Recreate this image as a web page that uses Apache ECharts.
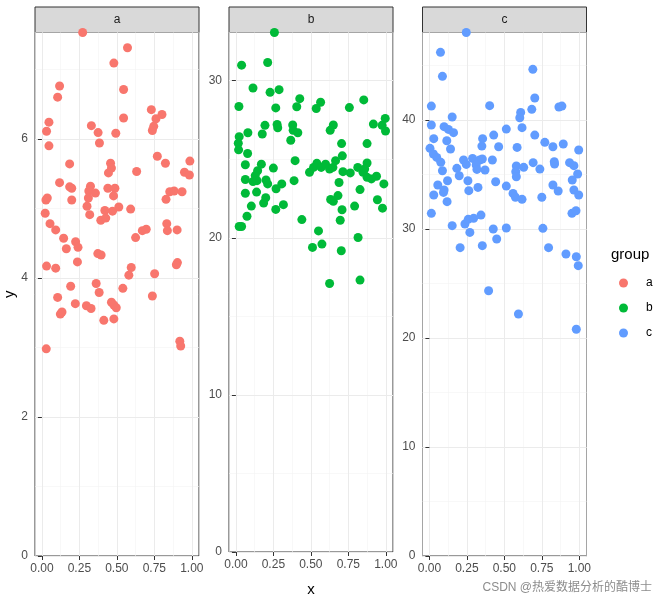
<!DOCTYPE html>
<html>
<head>
<meta charset="utf-8">
<script src="https://cdn.jsdelivr.net/npm/echarts@6/dist/echarts.min.js"></script>
<style>
html, body { margin: 0; padding: 0; background: #fff; }
#chart { width: 667px; height: 602px; }
</style>
</head>
<body>
<div id="chart"></div>
<script>
// facet groups
const groups = ['a', 'b', 'c']
const colors = ['#F8766D', '#00BA38', '#619CFF']

// group a
const xA = [0.272, 0.571, 0.480, 0.118, 0.105, 0.545, 0.730, 0.801, 0.761, 0.545,
  0.047, 0.031, 0.330, 0.375, 0.493, 0.737, 0.746, 0.384, 0.047, 0.185,
  0.770, 0.824, 0.458, 0.464, 0.444, 0.632, 0.987, 0.951, 0.984, 0.118,
  0.185, 0.199, 0.324, 0.313, 0.357, 0.310, 0.440, 0.487, 0.478, 0.027,
  0.036, 0.199, 0.853, 0.882, 0.935, 0.828, 0.301, 0.319, 0.022, 0.420,
  0.471, 0.513, 0.592, 0.393, 0.426, 0.054, 0.092, 0.145, 0.163, 0.225,
  0.241, 0.237, 0.625, 0.670, 0.696, 0.833, 0.837, 0.902, 0.373, 0.395,
  0.031, 0.092, 0.596, 0.580, 0.752, 0.904, 0.897, 0.192, 0.362, 0.382,
  0.105, 0.540, 0.737, 0.223, 0.123, 0.134, 0.297, 0.328, 0.464, 0.480,
  0.496, 0.413, 0.480, 0.029, 0.920, 0.926]
const yA = [7.53, 7.31, 7.09, 6.76, 6.60, 6.71, 6.42, 6.35, 6.29, 6.30,
  6.24, 6.11, 6.19, 6.09, 6.08, 6.12, 6.18, 5.94, 5.90, 5.64,
  5.75, 5.65, 5.65, 5.58, 5.51, 5.53, 5.68, 5.52, 5.48, 5.37,
  5.31, 5.29, 5.32, 5.25, 5.22, 5.15, 5.29, 5.29, 5.18, 5.12,
  5.15, 5.12, 5.24, 5.25, 5.24, 5.13, 5.03, 4.91, 4.93, 4.97,
  4.96, 5.02, 4.99, 4.83, 4.86, 4.78, 4.69, 4.57, 4.42, 4.52,
  4.44, 4.23, 4.58, 4.68, 4.70, 4.78, 4.68, 4.69, 4.35, 4.33,
  4.17, 4.14, 4.15, 4.04, 4.06, 4.22, 4.19, 3.88, 3.92, 3.79,
  3.72, 3.85, 3.74, 3.63, 3.48, 3.51, 3.60, 3.56, 3.65, 3.61,
  3.57, 3.39, 3.41, 2.98, 3.09, 3.02]

// group b
const xB = [0.257, 0.038, 0.212, 0.114, 0.228, 0.288, 0.020, 0.266, 0.426, 0.406,
  0.565, 0.536, 0.757, 0.853, 0.022, 0.016, 0.018, 0.080, 0.194, 0.176,
  0.275, 0.279, 0.379, 0.382, 0.413, 0.366, 0.650, 0.629, 0.705, 0.917,
  0.996, 0.975, 0.998, 0.875, 0.078, 0.063, 0.395, 0.250, 0.170, 0.145,
  0.129, 0.063, 0.114, 0.201, 0.212, 0.268, 0.306, 0.388, 0.063, 0.138,
  0.199, 0.185, 0.103, 0.317, 0.266, 0.074, 0.022, 0.038, 0.440, 0.491,
  0.518, 0.540, 0.569, 0.598, 0.625, 0.647, 0.665, 0.710, 0.714, 0.763,
  0.813, 0.875, 0.848, 0.875, 0.938, 0.987, 0.688, 0.828, 0.681, 0.632,
  0.650, 0.708, 0.696, 0.792, 0.944, 0.978, 0.551, 0.511, 0.574, 0.703,
  0.815, 0.625, 0.828, 0.859, 0.141, 0.904]
const yB = [33.07, 30.99, 31.16, 29.54, 29.26, 29.43, 28.36, 28.27, 28.86, 28.34,
  28.63, 28.23, 28.29, 28.78, 26.44, 26.02, 25.60, 26.69, 27.16, 26.61,
  27.22, 27.01, 27.18, 26.84, 26.69, 26.21, 27.18, 26.84, 26.00, 27.24,
  27.60, 27.16, 26.80, 26.00, 25.37, 24.65, 24.91, 24.44, 24.69, 24.27,
  23.96, 23.71, 23.58, 23.68, 23.43, 23.12, 23.43, 23.64, 22.84, 22.91,
  22.55, 22.21, 22.02, 22.11, 21.81, 21.37, 20.72, 20.72, 21.16, 24.17,
  24.48, 24.74, 24.48, 24.69, 24.38, 24.48, 24.91, 25.22, 24.21, 24.13,
  24.48, 24.76, 24.17, 23.85, 23.92, 23.43, 23.52, 23.07, 22.69, 22.44,
  22.32, 21.79, 21.12, 22.02, 22.42, 21.89, 20.44, 19.39, 19.60, 19.18,
  20.02, 17.09, 17.31, 24.38, 23.64, 23.75]

// group c
const xC = [0.246, 0.074, 0.087, 0.690, 0.703, 0.683, 0.609, 0.603, 0.864, 0.884,
  0.013, 0.402, 0.152, 0.013, 0.098, 0.127, 0.161, 0.029, 0.116, 0.141,
  0.004, 0.027, 0.513, 0.618, 0.429, 0.355, 0.350, 0.462, 0.585, 0.703,
  0.770, 0.824, 0.893, 0.996, 0.049, 0.076, 0.087, 0.228, 0.288, 0.335,
  0.353, 0.420, 0.246, 0.312, 0.317, 0.371, 0.183, 0.199, 0.580, 0.629,
  0.576, 0.580, 0.692, 0.737, 0.833, 0.835, 0.935, 0.964, 0.989, 0.953,
  0.121, 0.056, 0.098, 0.094, 0.029, 0.118, 0.257, 0.263, 0.324, 0.442,
  0.513, 0.558, 0.574, 0.618, 0.750, 0.824, 0.859, 0.964, 0.996, 0.013,
  0.951, 0.978, 0.152, 0.237, 0.259, 0.295, 0.344, 0.270, 0.426, 0.513,
  0.449, 0.757, 0.205, 0.353, 0.795, 0.911, 0.980, 0.993, 0.395, 0.594,
  0.980]
const yC = [48.03, 46.21, 44.01, 44.65, 42.02, 40.98, 40.70, 40.21, 41.19, 41.28,
  41.28, 41.32, 40.28, 39.54, 39.39, 39.14, 38.84, 38.29, 38.10, 37.34,
  37.40, 36.88, 39.17, 39.30, 38.62, 38.29, 37.61, 37.55, 37.49, 38.62,
  37.95, 37.55, 37.80, 37.25, 36.57, 36.12, 35.35, 36.33, 36.48, 36.33,
  36.42, 36.33, 35.93, 35.87, 35.47, 35.41, 35.57, 34.89, 35.78, 35.66,
  35.26, 34.80, 36.09, 35.50, 36.18, 35.96, 36.09, 35.81, 35.05, 34.50,
  34.43, 34.04, 33.58, 33.36, 33.12, 32.51, 34.43, 33.52, 33.82, 34.34,
  33.94, 33.27, 32.91, 32.72, 32.91, 34.04, 33.49, 33.58, 33.12, 31.44,
  31.44, 31.68, 30.31, 30.46, 30.89, 30.98, 31.28, 29.69, 30.00, 30.09,
  29.08, 30.06, 28.29, 28.47, 28.29, 27.71, 27.46, 26.64, 24.34, 22.20,
  20.80]

// tick labels
const xTicks = [0, 0.25, 0.5, 0.75, 1]
const yTicks = [[0, 2, 4, 6], [0, 10, 20, 30], [0, 10, 20, 30, 40]]
const yStep = [2, 10, 10]

const xs = [xA, xB, xC]
const ys = [yA, yB, yC]

const xMin = -0.046
const xMax = 1.048
const panelLeft = [35, 229, 422.5]
const panelWidth = 164
const panelTop = 32.5
const panelBottom = 46

const chart = echarts.init(document.getElementById('chart'), null, { renderer: 'canvas' })

const grids = []
const xAxes = []
const yAxes = []
const series = []
const graphics = []

groups.forEach((g, i) => {
  grids.push({
    left: panelLeft[i], top: panelTop, width: panelWidth, bottom: panelBottom,
    show: true, borderColor: '#333333', borderWidth: 1, backgroundColor: '#fff'
  })
  // main x axis
  xAxes.push({
    gridIndex: i, type: 'value', min: xMin, max: xMax,
    minInterval: 0.25, maxInterval: 0.25, z: 2,
    name: i === 1 ? 'x' : '', nameLocation: 'middle', nameGap: 30,
    nameTextStyle: { color: '#000', fontSize: 15, fontFamily: 'Liberation Sans' },
    axisLine: { show: false },
    axisTick: { show: true, length: 4, customValues: xTicks, lineStyle: { color: '#333333' } },
    axisLabel: {
      customValues: xTicks, margin: 7, color: '#4D4D4D', fontSize: 12,
      fontFamily: 'Liberation Sans', formatter: v => v.toFixed(2)
    },
    splitLine: { show: true, lineStyle: { color: '#EBEBEB', width: 1 } }
  })
  // main y axis
  yAxes.push({
    gridIndex: i, type: 'value', min: 0, max: 'dataMax',
    minInterval: yStep[i], maxInterval: yStep[i], z: 2,
    name: i === 0 ? 'y' : '', nameLocation: 'middle', nameGap: 15, nameRotate: 90,
    nameTextStyle: { color: '#000', fontSize: 15, fontFamily: 'Liberation Sans' },
    axisLine: { show: false },
    axisTick: { show: true, length: 4, customValues: yTicks[i], lineStyle: { color: '#333333' } },
    axisLabel: {
      customValues: yTicks[i], margin: 7, color: '#4D4D4D', fontSize: 12,
      fontFamily: 'Liberation Sans'
    },
    splitLine: { show: true, lineStyle: { color: '#EBEBEB', width: 1 } }
  })
  series.push({
    name: g, type: 'scatter', xAxisIndex: i, yAxisIndex: i,
    symbolSize: 9, itemStyle: { color: colors[i], opacity: 1 },
    data: xs[i].map((x, k) => [x, ys[i][k]]),
    z: 3
  })
  // strip on top of panel
  graphics.push({
    type: 'rect',
    shape: { x: panelLeft[i], y: 7, width: panelWidth, height: panelTop - 7 },
    style: { fill: '#D9D9D9', stroke: '#333333', lineWidth: 1 }
  })
  graphics.push({
    type: 'text',
    x: panelLeft[i] + panelWidth / 2, y: (7 + panelTop) / 2,
    style: {
      text: g, fill: '#1A1A1A', fontSize: 12, fontFamily: 'Liberation Sans',
      align: 'center', verticalAlign: 'middle'
    }
  })
})

// minor grid lines
groups.forEach((g, i) => {
  xAxes.push({
    gridIndex: i, type: 'value', min: xMin, max: xMax,
    minInterval: 0.125, maxInterval: 0.125, z: 0,
    axisLine: { show: false }, axisTick: { show: false }, axisLabel: { show: false },
    splitLine: { show: true, lineStyle: { color: '#F3F3F3', width: 0.6 } }
  })
  yAxes.push({
    gridIndex: i, type: 'value', min: 0, max: 'dataMax',
    minInterval: yStep[i] / 2, maxInterval: yStep[i] / 2, z: 0,
    axisLine: { show: false }, axisTick: { show: false }, axisLabel: { show: false },
    splitLine: { show: true, lineStyle: { color: '#F3F3F3', width: 0.6 } }
  })
  // hidden series so the minor axes get the same data extent
  series.push({
    type: 'scatter', xAxisIndex: 3 + i, yAxisIndex: 3 + i, silent: true,
    symbolSize: 0, itemStyle: { opacity: 0 },
    data: xs[i].map((x, k) => [x, ys[i][k]])
  })
})

graphics.push({
  type: 'text', right: 15, top: 582,
  style: {
    text: 'CSDN @热爱数据分析的酷博士', fill: '#8C8C8C', fontSize: 12,
    fontFamily: 'Liberation Sans, Noto Sans CJK SC'
  }
})

chart.setOption({
  animation: false,
  title: {
    text: 'group', left: 606, top: 242,
    textStyle: { color: '#000', fontSize: 15, fontWeight: 'normal', fontFamily: 'Liberation Sans' }
  },
  legend: {
    data: groups, orient: 'vertical', left: 614, top: 271,
    icon: 'circle', itemWidth: 35, itemHeight: 9, itemGap: 11,
    textStyle: { color: '#000', fontSize: 12, lineHeight: 14, fontFamily: 'Liberation Sans' }
  },
  grid: grids,
  xAxis: xAxes,
  yAxis: yAxes,
  series: series,
  graphic: graphics
})
</script>
</body>
</html>
